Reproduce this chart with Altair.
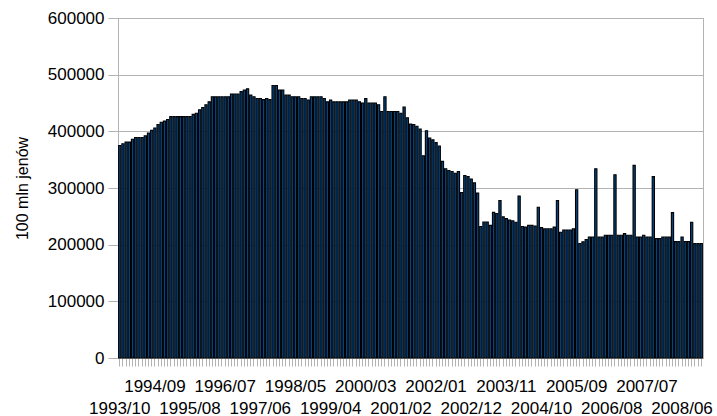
import json

import altair as alt
import pandas as pd

# Monthly series, first month 1993/10
start_year, start_month = 1993, 10

reserves = [
    375000, 378000, 381000, 381000, 386000, 389000, 389000, 389000, 392000, 397000,
    402000, 406000, 412000, 416000, 418000, 421000, 426000, 426000, 426000, 426000,
    426000, 426000, 426000, 430000, 432000, 438000, 442000, 447000, 452000, 461000,
    461000, 461000, 461000, 461000, 461000, 466000, 466000, 466000, 470000, 473000,
    475000, 464000, 461000, 458000, 458000, 456000, 458000, 456000, 481000, 481000,
    473000, 473000, 464000, 464000, 461000, 461000, 461000, 458000, 458000, 455000,
    461000, 461000, 461000, 461000, 458000, 452000, 455000, 452000, 452000, 452000,
    452000, 452000, 455000, 455000, 455000, 452000, 450000, 458000, 450000, 450000,
    450000, 447000, 435000, 461000, 435000, 435000, 435000, 435000, 432000, 443000,
    424000, 413000, 412000, 409000, 404000, 357000, 401000, 388000, 385000, 380000,
    374000, 347000, 334000, 331000, 329000, 326000, 329000, 292000, 322000, 320000,
    316000, 309000, 291000, 232000, 240000, 240000, 234000, 257000, 255000, 278000,
    249000, 246000, 243500, 242000, 239500, 286000, 232000, 231000, 234000, 234000,
    233000, 266000, 230000, 228000, 228000, 228000, 231000, 278000, 222000, 226000,
    226000, 226000, 228000, 297000, 202000, 205000, 209000, 213500, 213500, 334000,
    213500, 213500, 216500, 216500, 216500, 323500, 216500, 216500, 219400, 216500,
    216500, 340000, 213500, 213500, 216500, 213500, 213500, 320000, 210600, 210600,
    213500, 213500, 213500, 256500, 205300, 205300, 213500, 205300, 205300, 239600,
    201800, 201800, 201800,
]

months = []
year, month = start_year, start_month
for _ in reserves:
    months.append(f"{year}/{month:02d}")
    month += 1
    if month > 12:
        month, year = 1, year + 1

# every 11th month is labelled, labels alternate between two rows
tick_labels = months[::11]
upper_labels = tick_labels[1::2]

y_ticks = [0, 100000, 200000, 300000, 400000, 500000, 600000]

df = pd.DataFrame({"miesiac": months, "wartosc": reserves})

label_test = f"indexof({json.dumps(tick_labels)}, datum.value) >= 0"
upper_test = f"indexof({json.dumps(upper_labels)}, datum.value) >= 0"

GRAY = "#b3b3b3"
FONT = "Liberation Sans"

chart = (
    alt.Chart(df)
    .mark_bar(color="#004586", stroke="#000000", strokeWidth=1.1)
    .encode(
        x=alt.X(
            "miesiac:O",
            sort=None,
            title=None,
            scale=alt.Scale(paddingInner=0.3, paddingOuter=0.2),
            axis=alt.Axis(
                labelExpr=f"{label_test} ? datum.value : ''",
                labelAngle=0,
                labelOverlap=False,
                labelPadding={"condition": {"test": upper_test, "value": 12}, "value": 34},
                labelFont=FONT,
                labelFontSize=17,
                labelColor="#000000",
                tickColor=GRAY,
                tickSize=8,
                domainColor=GRAY,
            ),
        ),
        y=alt.Y(
            "wartosc:Q",
            title="100 mln jenów",
            scale=alt.Scale(domain=[0, 600000], nice=False),
            axis=alt.Axis(
                values=y_ticks,
                format="d",
                labelFont=FONT,
                labelFontSize=17,
                labelColor="#000000",
                labelPadding=4,
                tickSize=10,
                tickColor=GRAY,
                domainColor=GRAY,
                gridColor=GRAY,
                titleFont=FONT,
                titleFontSize=16,
                titleFontWeight="normal",
                titleColor="#000000",
                titlePadding=17,
            ),
        ),
    )
    .properties(
        width=585,
        height=340,
        padding={"left": 118, "top": 18, "right": 14, "bottom": 58},
        autosize=alt.AutoSizeParams(type="none"),
        background="#ffffff",
    )
    .configure_view(stroke=GRAY)
)

chart.save("out.html", embed_options={"renderer": "svg", "actions": False})
